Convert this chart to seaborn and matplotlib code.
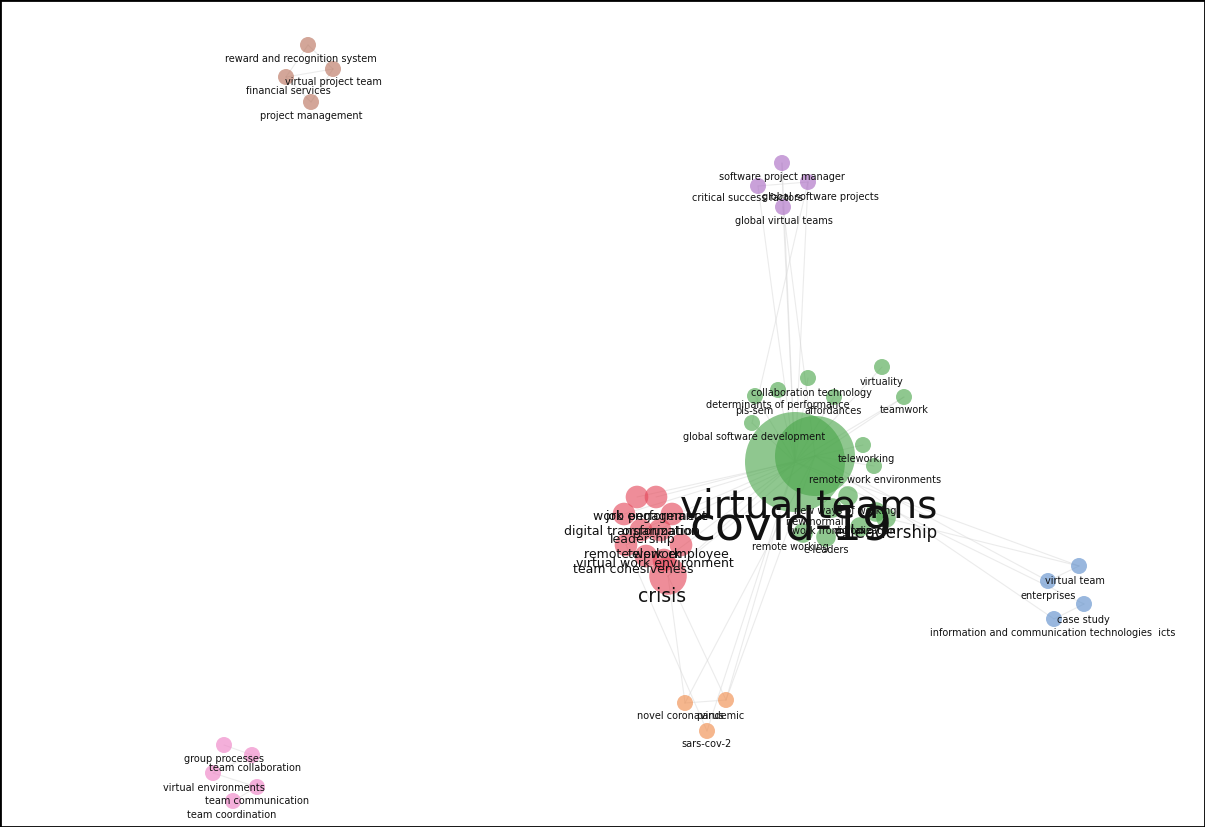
import numpy as np
import pandas as pd
import matplotlib.pyplot as plt
import seaborn as sns

# Keyword co-occurrence map (layout coordinates, pixel units)
keywords = [
    'reward and recognition system', 'virtual project team', 'financial services', 'project management',
    'software project manager', 'critical success factors', 'global software projects', 'global virtual teams',
    'virtual teams', 'covid-19', 'virtuality', 'teamwork', 'collaboration technology',
    'determinants of performance', 'pls-sem', 'affordances', 'global software development',
    'teleworking', 'remote work environments', 'new ways of working', 'new normal', 'work from home',
    'digitalization', 'e-leadership', 'remote working', 'e-leaders',
    'job performance', 'work engagement', 'digital transformation', 'organization', 'leadership',
    'remote work', 'telework', 'employee', 'virtual work environment', 'team cohesiveness', 'crisis',
    'virtual team', 'enterprises', 'case study', 'information and communication technologies  icts',
    'novel coronavirus', 'pandemic', 'sars-cov-2',
    'group processes', 'team collaboration', 'virtual environments', 'team communication', 'team coordination',
]
cluster = (['brown'] * 4 + ['purple'] * 4 + ['green'] * 18 + ['red'] * 11
           + ['blue'] * 4 + ['orange'] * 3 + ['pink'] * 5)
x = [308, 333, 286, 311,
     782, 758, 808, 783,
     795, 815, 882, 904, 808, 778, 755, 834, 752, 863, 874, 848, 832, 876, 860, 886, 803, 826,
     637, 656, 624, 672, 641, 626, 660, 681, 646, 664, 668,
     1079, 1048, 1084, 1054,
     685, 726, 707,
     224, 252, 213, 257, 233]
y = [45, 69, 77, 102,
     163, 186, 182, 207,
     462, 456, 367, 397, 378, 390, 396, 397, 423, 445, 466, 496, 508, 512, 527, 518, 533, 537,
     497, 497, 514, 514, 530, 545, 530, 545, 556, 560, 576,
     566, 581, 604, 619,
     703, 700, 731,
     745, 755, 773, 787, 801]
occurrences = [2, 2, 2, 2,
               2, 2, 2, 2,
               78, 50, 2, 2, 2, 2, 2, 2, 2, 2, 2, 3, 3, 3, 3, 3, 3, 3,
               4, 4, 4, 4, 4, 4, 4, 4, 4, 4, 11,
               2, 2, 2, 2,
               2, 2, 2,
               2, 2, 2, 2, 2]
label_x = [301, 333, 288, 311,
           782, 748, 820, 784,
           809, 791, 882, 904, 811, 778, 754, 833, 754, 866, 875, 845, 815, 832, 865, 886, 790, 826,
           657, 650, 632, 660, 643, 624, 655, 698, 655, 633, 662,
           1075, 1048, 1083, 1053,
           680, 720, 707,
           224, 255, 214, 257, 232]
label_y = [62, 85, 94, 119,
           180, 201, 200, 224,
           517, 540, 385, 413, 396, 408, 414, 414, 440, 462, 483, 514, 525, 534, 534, 538, 550, 553,
           520, 520, 535, 535, 543, 558, 558, 558, 567, 573, 602,
           584, 599, 623, 636,
           719, 719, 747,
           762, 771, 791, 804, 818]

edges = [
    ('reward and recognition system', 'virtual project team'), ('reward and recognition system', 'financial services'),
    ('virtual project team', 'project management'), ('financial services', 'project management'),
    ('financial services', 'virtual project team'),
    ('software project manager', 'global virtual teams'), ('critical success factors', 'global software projects'),
    ('critical success factors', 'virtual teams'), ('global virtual teams', 'virtual teams'),
    ('global software projects', 'virtual teams'), ('software project manager', 'virtual teams'),
    ('global virtual teams', 'covid-19'), ('global software projects', 'global software development'),
    ('virtuality', 'virtual teams'), ('teamwork', 'virtual teams'), ('collaboration technology', 'virtual teams'),
    ('determinants of performance', 'virtual teams'), ('pls-sem', 'virtual teams'), ('affordances', 'virtual teams'),
    ('global software development', 'virtual teams'), ('teleworking', 'covid-19'),
    ('remote work environments', 'covid-19'), ('teamwork', 'covid-19'),
    ('job performance', 'virtual teams'), ('work engagement', 'covid-19'), ('digital transformation', 'covid-19'),
    ('leadership', 'virtual teams'), ('remote work', 'covid-19'), ('crisis', 'covid-19'),
    ('crisis', 'virtual teams'), ('team cohesiveness', 'virtual teams'),
    ('virtual team', 'virtual teams'), ('enterprises', 'covid-19'), ('case study', 'virtual teams'),
    ('information and communication technologies  icts', 'covid-19'), ('virtual team', 'e-leadership'),
    ('enterprises', 'virtual team'), ('case study', 'information and communication technologies  icts'),
    ('novel coronavirus', 'crisis'), ('novel coronavirus', 'covid-19'), ('pandemic', 'crisis'),
    ('pandemic', 'covid-19'), ('sars-cov-2', 'virtual teams'), ('sars-cov-2', 'remote work'),
    ('novel coronavirus', 'pandemic'), ('pandemic', 'virtual teams'),
    ('group processes', 'team collaboration'), ('team collaboration', 'virtual environments'),
    ('virtual environments', 'team communication'), ('team communication', 'team coordination'),
]

df = pd.DataFrame({'keyword': keywords, 'cluster': cluster, 'x': x, 'y': y,
                   'occurrences': occurrences, 'lx': label_x, 'ly': label_y})
pos = df.set_index('keyword')[['x', 'y']]

# node radius in pixels -> marker area in points^2 (dpi 100)
df['radius'] = 5.66 * np.sqrt(df['occurrences'])
df['area'] = (1.44 * df['radius']) ** 2

palette = {'brown': '#b8705a', 'purple': '#a867c2', 'green': '#4aa64a', 'red': '#e5485a',
           'blue': '#5a8ccb', 'orange': '#f08a48', 'pink': '#ee7fc4'}
label_size = {'virtual teams': 28, 'covid-19': 34, 'crisis': 13.5, 'e-leadership': 12}

sns.set_theme(style='white')
fig = plt.figure(figsize=(12.05, 8.27), dpi=100)
ax = fig.add_axes([0, 0, 1, 1])

for a, b in edges:
    ax.plot([pos.loc[a, 'x'], pos.loc[b, 'x']], [pos.loc[a, 'y'], pos.loc[b, 'y']],
            color='#d8d8d8', lw=0.8, alpha=0.5, zorder=1)

amin, amax = df['area'].min(), df['area'].max()
sns.scatterplot(data=df, x='x', y='y', hue='cluster', palette=palette, size='area',
                sizes=(amin, amax), size_norm=(amin, amax), alpha=0.62, edgecolor='none',
                legend=False, ax=ax, zorder=2)

for _, r in df.iterrows():
    if r['keyword'] in label_size:
        fs = label_size[r['keyword']]
    elif r['cluster'] == 'red':
        fs = 9
    else:
        fs = 7
    ax.text(r['lx'], r['ly'], r['keyword'], ha='center', va='baseline', fontsize=fs,
            color='#111111', zorder=3)

ax.set_xlim(0, 1205)
ax.set_ylim(827, 0)
ax.set_xticks([])
ax.set_yticks([])
ax.set_xlabel('')
ax.set_ylabel('')
for s in ax.spines.values():
    s.set_visible(True)
    s.set_color('black')
    s.set_linewidth(2)

fig.savefig('out.png', dpi=100)
